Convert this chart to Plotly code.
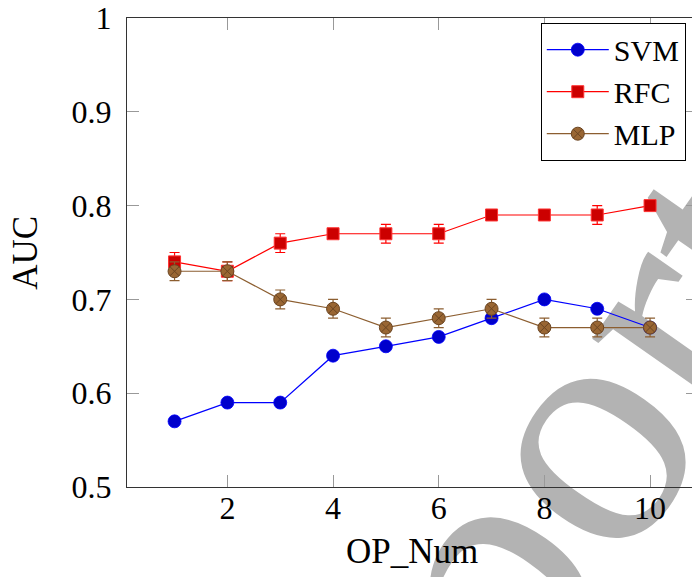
import plotly.graph_objects as go

op_num = [1, 2, 3, 4, 5, 6, 7, 8, 9, 10]
svm_auc = [0.57, 0.59, 0.59, 0.64, 0.65, 0.66, 0.68, 0.70, 0.69, 0.67]
rfc_auc = [0.74, 0.73, 0.76, 0.77, 0.77, 0.77, 0.79, 0.79, 0.79, 0.80]
rfc_err = [0.01, 0.01, 0.01, 0.0, 0.01, 0.01, 0.0, 0.0, 0.01, 0.0]
mlp_auc = [0.73, 0.73, 0.70, 0.69, 0.67, 0.68, 0.69, 0.67, 0.67, 0.67]
mlp_err = [0.01, 0.01, 0.01, 0.01, 0.01, 0.01, 0.01, 0.01, 0.01, 0.01]

x_tickvals = [2, 4, 6, 8, 10]
x_ticktext = ["2", "4", "6", "8", "10"]
y_tickvals = [0.5, 0.6, 0.7, 0.8, 0.9, 1.0]
y_ticktext = ["0.5", "0.6", "0.7", "0.8", "0.9", "1"]

FONT = "Liberation Serif"

fig = go.Figure()

fig.add_trace(go.Scatter(
    x=op_num, y=svm_auc, name="SVM", mode="lines+markers",
    line=dict(color="#0000ff", width=1.2),
    marker=dict(symbol="circle", size=13, color="#0000cc",
                line=dict(color="#0000ff", width=0.8)),
))
fig.add_trace(go.Scatter(
    x=op_num, y=rfc_auc, name="RFC", mode="lines+markers",
    line=dict(color="#ff0000", width=1.2),
    marker=dict(symbol="square", size=12, color="#cc0000",
                line=dict(color="#ff3333", width=1)),
    error_y=dict(type="data", array=rfc_err, visible=True,
                 color="#ff0000", thickness=1.2, width=5),
))
fig.add_trace(go.Scatter(
    x=op_num, y=mlp_auc, name="MLP", mode="lines+markers",
    line=dict(color="#8c5e30", width=1.2),
    marker=dict(symbol="circle-x", size=13, color="#996633",
                line=dict(color="#6b4522", width=1)),
    error_y=dict(type="data", array=mlp_err, visible=True,
                 color="#8c5e30", thickness=1.2, width=5),
))
# empty trace so the right-hand mirror axis is drawn
fig.add_trace(go.Scatter(x=[], y=[], yaxis="y2", showlegend=False,
                         hoverinfo="skip"))

fig.update_layout(
    width=692, height=577,
    margin=dict(l=127, r=0, t=13, b=90),
    paper_bgcolor="white", plot_bgcolor="white",
    font=dict(family=FONT, color="black", size=32),
    showlegend=True,
    legend=dict(
        x=0.989, xanchor="right", y=0.99, yanchor="top",
        bgcolor="white", bordercolor="black", borderwidth=1,
        font=dict(family=FONT, size=30, color="black"),
        tracegroupgap=0, itemwidth=62,
    ),
    xaxis=dict(
        range=[0.1, 10.794], showgrid=False, zeroline=False,
        showline=True, linecolor="#333333", linewidth=1.3, mirror="ticks",
        ticks="inside", ticklen=12, tickwidth=1, tickcolor="#999999",
        tickvals=x_tickvals, ticktext=x_ticktext, ticklabeloverflow="allow",
        ticklabelstandoff=-8,
        tickfont=dict(family=FONT, size=32, color="black"),
    ),
    yaxis=dict(
        range=[0.5, 1.0], showgrid=False, zeroline=False,
        showline=True, linecolor="#333333", linewidth=1.3, mirror=False,
        ticks="inside", ticklen=12, tickwidth=1, tickcolor="#999999",
        tickvals=y_tickvals, ticktext=y_ticktext, ticklabeloverflow="allow",
        ticklabelstandoff=8,
        tickfont=dict(family=FONT, size=32, color="black"),
    ),
    yaxis2=dict(
        range=[0.5, 1.0], overlaying="y", side="right", anchor="x",
        showgrid=False, zeroline=False, showline=False,
        ticks="inside", ticklen=6, tickwidth=1, tickcolor="#999999",
        tickvals=y_tickvals, showticklabels=False,
    ),
    annotations=[
        dict(text="AUC", xref="paper", yref="paper", x=-0.18, y=0.5,
             textangle=-90, showarrow=False, xanchor="center",
             yanchor="middle", font=dict(family=FONT, size=35)),
        dict(text="OP_Num", xref="paper", yref="paper", x=0.5053, y=-0.138,
             showarrow=False, xanchor="center", yanchor="middle",
             font=dict(family=FONT, size=35)),
    ],
    shapes=[
        dict(type="rect", xref="paper", yref="paper",
             x0=0.564, x1=0.565, y0=-0.1475, y1=-0.1465,
             line=dict(width=0), fillcolor="rgba(0,0,0,0)", layer="below",
             label=dict(text="Report", textangle=-55,
                        textposition="middle center",
                        font=dict(family=FONT, size=340, color="#b3b3b3"))),
    ],
)

fig.write_html(
    "out.html",
    config={"displayModeBar": False},
    post_script="document.body.style.margin='0';document.body.style.overflow='hidden';",
)
